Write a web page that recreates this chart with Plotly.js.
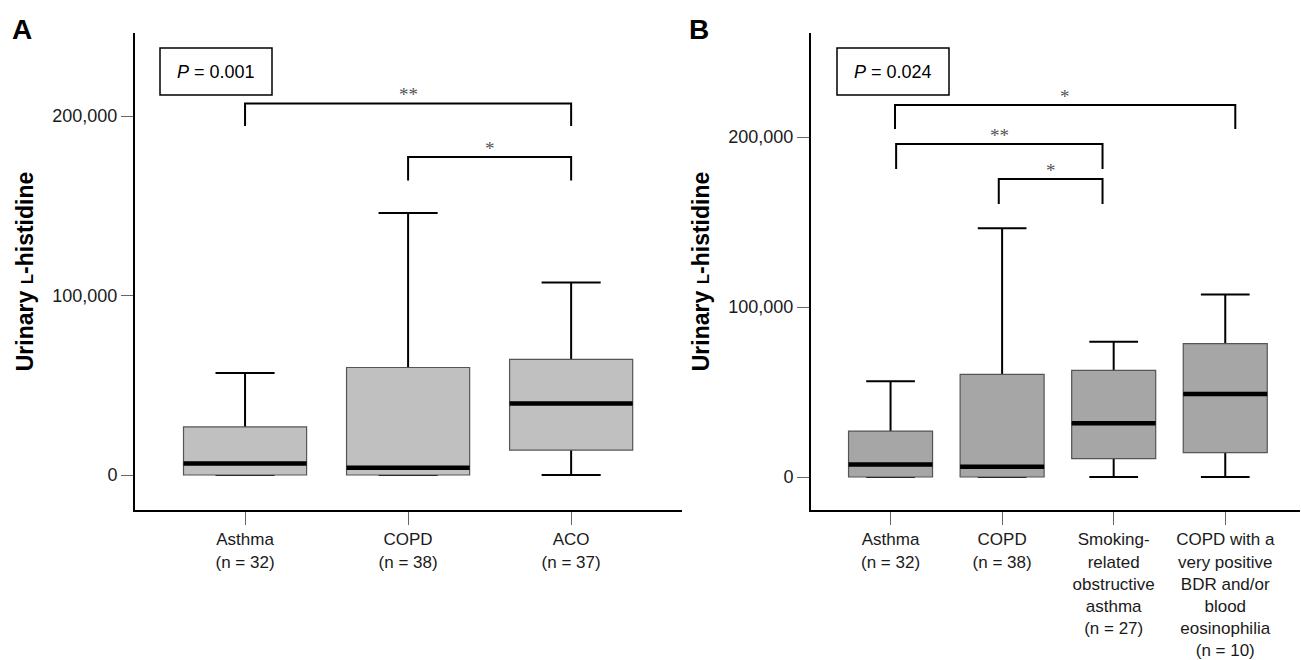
<!DOCTYPE html>
<html>
<head>
<meta charset="utf-8">
<script src="https://cdn.plot.ly/plotly-3.0.1.min.js"></script>
<style>html,body{margin:0;padding:0;background:#fff;}#chart{width:1301px;height:660px;}</style>
</head>
<body>
<div id="chart"></div>
<script>
// ---------- Data ----------
const groupsA = ['Asthma<br>(n = 32)', 'COPD<br>(n = 38)', 'ACO<br>(n = 37)'];
const posA = [0, 1, 2];
const lowA = [0, 0, 0];
const q1A = [0, 0, 13900];
const medA = [6400, 4000, 39800];
const q3A = [26800, 59900, 64400];
const highA = [56800, 146000, 107200];

const groupsB = ['Asthma<br>(n = 32)', 'COPD<br>(n = 38)', 'Smoking-<br>related<br>obstructive<br>asthma<br>(n = 27)',
                 'COPD with a<br>very positive<br>BDR and/or<br>blood<br>eosinophilia<br>(n = 10)'];
const posB = [0, 1, 2, 3];
const lowB = [0, 0, 0, 0];
const q1B = [0, 0, 10800, 14400];
const medB = [7300, 6000, 31600, 48800];
const q3B = [27000, 60400, 62700, 78500];
const highB = [56400, 146300, 79500, 107400];

const yTicks = [0, 100000, 200000];
const pTextA = '<i>P</i> = 0.001';
const pTextB = '<i>P</i> = 0.024';
// significance brackets: [from, to, top, bottom, label]
const bracketsA = [[0, 2, 207000, 194400, '**'], [1, 2, 177200, 164000, '*']];
const bracketsB = [[0.04, 3.09, 218800, 204700, '*'], [0.05, 1.9, 195900, 181200, '**'], [0.97, 1.9, 175300, 160600, '*']];

// ---------- Layout helpers ----------
const W = 1301, H = 660;
const FONT = 'Liberation Sans, Arial, Helvetica, sans-serif';
const px = v => v / W, py = v => 1 - v / H;

function boxTraces(pos, low, q1, med, q3, high, xa, ya, fill, bw, ww) {
  const common = {type: 'box', x: pos, xaxis: xa, yaxis: ya, boxpoints: false, hoverinfo: 'skip', width: bw, showlegend: false};
  return [
    Object.assign({}, common, {q1: med, median: med, q3: med, lowerfence: low, upperfence: high,
      whiskerwidth: ww, line: {color: '#000', width: 2}, fillcolor: 'rgba(0,0,0,0)'}),
    Object.assign({}, common, {q1: q1, median: med, q3: q3, lowerfence: q1, upperfence: q3,
      whiskerwidth: 0, line: {color: '#555', width: 1.2}, fillcolor: fill}),
    Object.assign({}, common, {q1: med, median: med, q3: med, lowerfence: med, upperfence: med,
      whiskerwidth: 0, line: {color: '#000', width: 4.5}, fillcolor: 'rgba(0,0,0,0)'})
  ];
}

const data = [].concat(
  boxTraces(posA, lowA, q1A, medA, q3A, highA, 'x', 'y', '#c0c0c0', 0.755, 0.48),
  boxTraces(posB, lowB, q1B, medB, q3B, highB, 'x2', 'y2', '#a6a6a6', 0.753, 0.58)
);

const ydom = [py(510), py(33)];
const tickFont = {family: FONT, size: 18, color: '#1a1a1a'};
const xTickFont = {family: FONT, size: 17, color: '#1a1a1a'};
const titleText = 'Urinary <span style="font-size:17px">L</span>-histidine';
function xAxis(dom, range, vals, text, anchor) {
  return {domain: dom, range: range, tickvals: vals, ticktext: text, tickmode: 'array',
    ticks: 'outside', ticklen: 13, tickwidth: 1, tickcolor: '#666', showline: true, linecolor: '#000',
    linewidth: 2, showgrid: false, zeroline: false, anchor: anchor, tickfont: xTickFont, automargin: false, fixedrange: true};
}
function yAxis(range, anchor) {
  return {domain: ydom, range: range, tickvals: yTicks, tickmode: 'array', tickformat: ',d',
    ticks: 'outside', ticklen: 12, tickwidth: 1, tickcolor: '#666', showline: true, linecolor: '#000',
    linewidth: 2, showgrid: false, zeroline: false, anchor: anchor, tickfont: tickFont, automargin: false, fixedrange: true,
    title: {text: titleText, font: {family: FONT, size: 23, color: '#000', weight: 'bold'}, standoff: 12}};
}

const shapes = [];
const annotations = [];
function addBrackets(list, xr, yr) {
  list.forEach(b => {
    shapes.push({type: 'path', xref: xr, yref: yr,
      path: `M ${b[0]},${b[3]} L ${b[0]},${b[2]} L ${b[1]},${b[2]} L ${b[1]},${b[3]}`,
      line: {color: '#000', width: 2}});
    annotations.push({xref: xr, yref: yr, x: (b[0] + b[1]) / 2, y: b[2], text: b[4], showarrow: false,
      yanchor: 'bottom', yshift: -4, font: {family: 'Liberation Serif, serif', size: 19, color: '#555'}});
  });
}
addBrackets(bracketsA, 'x', 'y');
addBrackets(bracketsB, 'x2', 'y2');

function pBox(x0, x1, text) {
  shapes.push({type: 'rect', xref: 'paper', yref: 'paper', x0: px(x0), x1: px(x1), y0: py(95), y1: py(48),
    line: {color: '#000', width: 1.5}, fillcolor: 'rgba(0,0,0,0)'});
  annotations.push({xref: 'paper', yref: 'paper', x: px((x0 + x1) / 2), y: py(71.5), text: text, showarrow: false,
    xanchor: 'center', yanchor: 'middle', font: {family: FONT, size: 18, color: '#000'}});
}
pBox(160, 272, pTextA);
pBox(837, 949, pTextB);

annotations.push({xref: 'paper', yref: 'paper', x: px(10), y: py(12), text: '<b>A</b>', showarrow: false,
  xanchor: 'left', yanchor: 'top', font: {family: FONT, size: 28, color: '#000'}});
annotations.push({xref: 'paper', yref: 'paper', x: px(687), y: py(12), text: '<b>B</b>', showarrow: false,
  xanchor: 'left', yanchor: 'top', font: {family: FONT, size: 28, color: '#000'}});

const layout = {
  width: W, height: H, margin: {l: 0, r: 0, t: 0, b: 0}, paper_bgcolor: '#fff', plot_bgcolor: '#fff',
  showlegend: false, boxmode: 'overlay', font: {family: FONT},
  xaxis: xAxis([px(135), px(682)], [-0.675, 2.68], posA, groupsA, 'y'),
  yaxis: yAxis([-19500, 246240], 'x'),
  xaxis2: xAxis([px(811), px(1300)], [-0.713, 3.67], posB, groupsB, 'y2'),
  yaxis2: yAxis([-19400, 261176], 'x2'),
  shapes: shapes, annotations: annotations
};

Plotly.newPlot('chart', data, layout, {displayModeBar: false, staticPlot: true});
</script>
</body>
</html>
